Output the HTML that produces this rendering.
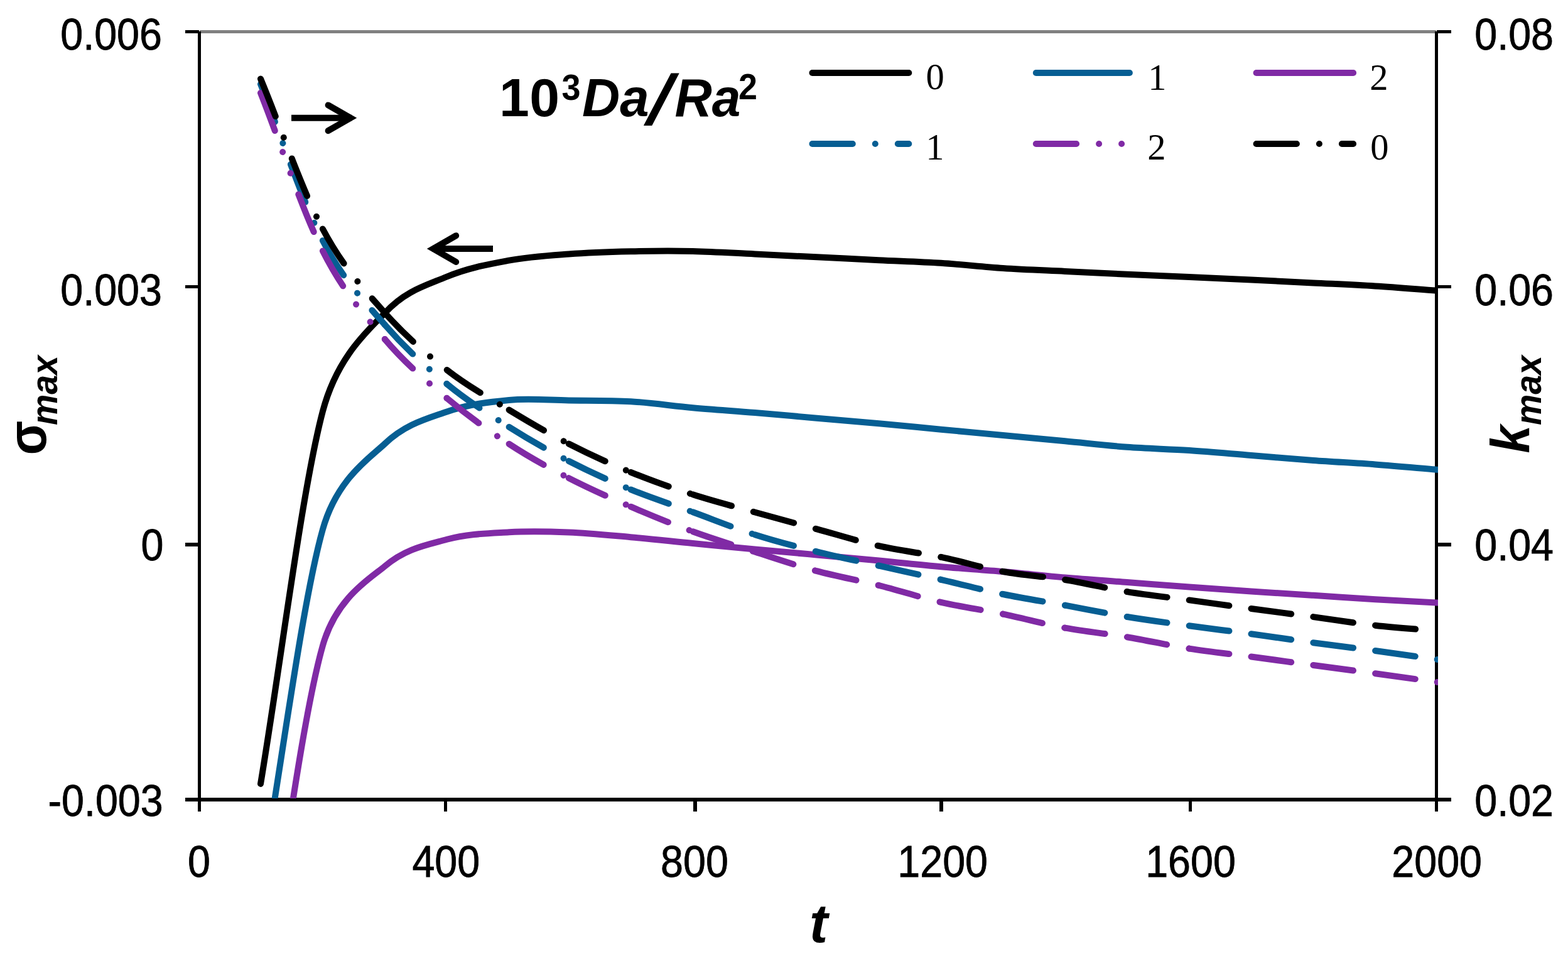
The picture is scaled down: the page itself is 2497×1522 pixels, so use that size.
<!DOCTYPE html>
<html lang="en"><head><meta charset="utf-8"><title>Growth rate and wavenumber chart</title>
<style>html,body{margin:0;padding:0;background:#fff;overflow:hidden}svg{display:block}text{font-family:"Liberation Sans",sans-serif;fill:#000}.tk{font-size:64.6px;stroke:#000;stroke-width:0.8px}.lg text{font-family:"Liberation Serif",serif;font-size:58.6px}.b{font-weight:bold}.bi{font-weight:bold;font-style:italic}.i{font-style:italic}</style></head><body>
<svg xmlns="http://www.w3.org/2000/svg" width="2497" height="1522" viewBox="0 0 2497 1522">
<rect width="2497" height="1522" fill="#fff"/>
<g shape-rendering="crispEdges">
<rect x="318" y="48" width="1969" height="5" fill="#808080"/>
<rect x="295" y="1270" width="2016" height="6" fill="#000"/>
<rect x="315" y="50" width="5" height="1242" fill="#000"/>
<rect x="2285" y="50" width="5" height="1242" fill="#000"/>
<rect x="295" y="48" width="22" height="5" fill="#000"/>
<rect x="2288" y="48" width="23" height="5" fill="#000"/>
<rect x="295" y="454" width="22" height="5" fill="#000"/>
<rect x="2288" y="454" width="23" height="5" fill="#000"/>
<rect x="295" y="864" width="22" height="6" fill="#000"/>
<rect x="2288" y="864" width="23" height="6" fill="#000"/>
<rect x="707" y="1274" width="5" height="18" fill="#000"/>
<rect x="1104" y="1274" width="6" height="18" fill="#000"/>
<rect x="1496" y="1274" width="6" height="18" fill="#000"/>
<rect x="1893" y="1274" width="5" height="18" fill="#000"/>
</g>
<defs><clipPath id="plot"><rect x="315" y="48" width="1975" height="1223"/></clipPath></defs>
<g clip-path="url(#plot)">
<path d="M415 1247.9C447.97 1050.27 480.93 779.93 513.9 655C537.54 565.42 589.16 523.93 612.8 498.3C645.77 462.55 678.73 454.45 711.7 440.5C744.67 426.55 778.27 420.62 810.6 414.6C842.93 408.58 873.38 406.8 905.7 404.4C938.02 402 971.57 400.95 1004.5 400.2C1037.43 399.45 1070.37 399.18 1103.3 399.9C1136.23 400.62 1169.17 402.93 1202.1 404.5C1235.03 406.07 1267.97 407.68 1300.9 409.3C1333.83 410.92 1366.77 412.62 1399.7 414.2C1432.63 415.78 1465.57 416.67 1498.5 418.8C1531.43 420.93 1564.37 424.8 1597.3 427C1630.23 429.2 1663.17 430.38 1696.1 432C1729.03 433.62 1761.97 435.2 1794.9 436.7C1827.83 438.2 1860.77 439.53 1893.7 441C1926.63 442.47 1959.57 443.93 1992.5 445.5C2025.43 447.07 2058.37 448.73 2091.3 450.4C2124.23 452.07 2157.17 453.45 2190.1 455.5C2223.03 457.55 2255.97 460.3 2288.9 462.7" stroke="#000000" stroke-width="10" fill="none" stroke-linecap="round" stroke-linejoin="round"/>
<path d="M415 1410C447.97 1221 480.93 960.25 513.9 843C536.71 761.86 589.99 728.12 612.8 706.5C645.77 675.25 678.73 667.08 711.7 655.5C744.67 643.92 778.27 640 810.6 637C842.93 634 873.38 637.13 905.7 637.5C938.02 637.87 971.57 637.25 1004.5 639.2C1037.43 641.15 1070.37 646.23 1103.3 649.2C1136.23 652.17 1169.17 654.25 1202.1 657C1235.03 659.75 1267.97 662.82 1300.9 665.7C1333.83 668.58 1366.77 671.3 1399.7 674.3C1432.63 677.3 1465.57 680.58 1498.5 683.7C1531.43 686.82 1564.37 689.9 1597.3 693C1630.23 696.1 1663.17 699.17 1696.1 702.3C1729.03 705.43 1761.97 709.35 1794.9 711.8C1827.83 714.25 1860.77 714.8 1893.7 717C1926.63 719.2 1959.57 722.33 1992.5 725C2025.43 727.67 2058.37 730.6 2091.3 733C2124.23 735.4 2157.17 736.95 2190.1 739.4C2223.03 741.85 2255.97 744.93 2288.9 747.7" stroke="#065E93" stroke-width="10" fill="none" stroke-linecap="round" stroke-linejoin="round"/>
<path d="M415 1600C447.97 1409.33 480.93 1144.42 513.9 1028C535.78 950.75 590.92 920.21 612.8 901.5C645.77 873.3 678.73 867.85 711.7 858.8C744.67 849.75 778.27 849.1 810.6 847.2C842.93 845.3 873.38 846.07 905.7 847.4C938.02 848.73 971.57 852.27 1004.5 855.2C1037.43 858.13 1070.37 861.78 1103.3 865C1136.23 868.22 1169.17 871.43 1202.1 874.5C1235.03 877.57 1267.97 880.42 1300.9 883.4C1333.83 886.38 1366.77 889.27 1399.7 892.4C1432.63 895.53 1465.57 899.27 1498.5 902.2C1531.43 905.13 1564.37 907.12 1597.3 910C1630.23 912.88 1663.17 916.67 1696.1 919.5C1729.03 922.33 1761.97 924.5 1794.9 927C1827.83 929.5 1860.77 932.08 1893.7 934.5C1926.63 936.92 1959.57 939.28 1992.5 941.5C2025.43 943.72 2058.37 945.68 2091.3 947.8C2124.23 949.92 2157.17 952.25 2190.1 954.2C2223.03 956.15 2255.97 957.73 2288.9 959.5" stroke="#802AA5" stroke-width="10" fill="none" stroke-linecap="round" stroke-linejoin="round"/>
<g stroke="#065E93" stroke-width="10" fill="none" stroke-linecap="round" stroke-dasharray="64.3 36 0.01 36">
<path d="M415 134C447.97 217 480.93 319.17 513.9 383"/>
<path d="M513.9 383C546.87 446.83 579.83 478.95 612.8 517"/>
<path d="M612.8 517C645.77 555.05 678.73 584.17 711.7 611.3"/>
<path d="M711.7 611.3C744.67 638.43 778.27 659.35 810.6 679.8"/>
<path d="M810.6 679.8C842.93 700.25 873.38 717.4 905.7 734"/>
<path d="M905.7 734C938.02 750.6 971.57 765.85 1004.5 779.4"/>
<path d="M1004.5 779.4C1037.43 792.95 1070.37 803.33 1103.3 815.3"/>
<path d="M1103.3 815.3C1136.23 827.27 1169.17 840.7 1202.1 851.2"/>
<path d="M1202.1 851.2C1235.03 861.7 1267.97 870.05 1300.9 878.3"/>
<path d="M1300.9 878.3C1333.83 886.55 1366.77 893.28 1399.7 900.7"/>
<path d="M1399.7 900.7C1432.63 908.12 1465.57 915.25 1498.5 922.8"/>
<path d="M1498.5 922.8C1531.43 930.35 1564.37 939.18 1597.3 946"/>
<path d="M1597.3 946C1630.23 952.82 1663.17 957.7 1696.1 963.7"/>
<path d="M1696.1 963.7C1729.03 969.7 1761.97 976.58 1794.9 982"/>
<path d="M1794.9 982C1827.83 987.42 1860.77 991.67 1893.7 996.2"/>
<path d="M1893.7 996.2C1926.63 1000.73 1959.57 1004.7 1992.5 1009.2"/>
<path d="M1992.5 1009.2C2025.43 1013.7 2058.37 1018.73 2091.3 1023.2"/>
<path d="M2091.3 1023.2C2124.23 1027.67 2157.17 1031.55 2190.1 1036"/>
<path d="M2190.1 1036C2223.03 1040.45 2255.97 1045.27 2288.9 1049.9"/>
</g>
<circle cx="2288.7" cy="1049.9" r="5" fill="#065E93"/>
<g stroke="#802AA5" stroke-width="10" fill="none" stroke-linecap="round" stroke-dasharray="64.3 36 0.01 36 0.01 36">
<path d="M415 148C447.97 231.83 480.93 334.17 513.9 399.5"/>
<path d="M513.9 399.5C546.87 464.83 579.83 500.92 612.8 540"/>
<path d="M612.8 540C645.77 579.08 678.73 606.2 711.7 634"/>
<path d="M711.7 634C744.67 661.8 778.27 685.62 810.6 706.8"/>
<path d="M810.6 706.8C842.93 727.98 873.38 744.45 905.7 761.1"/>
<path d="M905.7 761.1C938.02 777.75 971.57 792.52 1004.5 806.7"/>
<path d="M1004.5 806.7C1037.43 820.88 1070.37 834.22 1103.3 846.2"/>
<path d="M1103.3 846.2C1136.23 858.18 1169.17 868.1 1202.1 878.6"/>
<path d="M1202.1 878.6C1235.03 889.1 1267.97 900.3 1300.9 909.2"/>
<path d="M1300.9 909.2C1333.83 918.1 1366.77 923.73 1399.7 932"/>
<path d="M1399.7 932C1432.63 940.27 1465.57 951.2 1498.5 958.8"/>
<path d="M1498.5 958.8C1531.43 966.4 1564.37 970.78 1597.3 977.6"/>
<path d="M1597.3 977.6C1630.23 984.42 1663.17 993.6 1696.1 999.7"/>
<path d="M1696.1 999.7C1729.03 1005.8 1761.97 1008.72 1794.9 1014.2"/>
<path d="M1794.9 1014.2C1827.83 1019.68 1860.77 1027.38 1893.7 1032.6"/>
<path d="M1893.7 1032.6C1926.63 1037.82 1959.57 1041.1 1992.5 1045.5"/>
<path d="M1992.5 1045.5C2025.43 1049.9 2058.37 1054.53 2091.3 1059"/>
<path d="M2091.3 1059C2124.23 1063.47 2157.17 1067.8 2190.1 1072.3"/>
<path d="M2190.1 1072.3C2223.03 1076.8 2255.97 1081.43 2288.9 1086"/>
</g>
<circle cx="2288.7" cy="1086" r="5" fill="#802AA5"/>
<g stroke="#000000" stroke-width="10" fill="none" stroke-linecap="round" stroke-dasharray="64.3 36 0.01 36">
<path d="M415 125.5C447.97 205.17 480.93 302.42 513.9 364.5"/>
<path d="M513.9 364.5C546.87 426.58 579.83 460.58 612.8 498"/>
<path d="M612.8 498C645.77 535.42 678.73 563.23 711.7 589"/>
<path d="M711.7 589C744.67 614.77 778.27 633.02 810.6 652.6"/>
<path d="M810.6 652.6C842.93 672.18 873.38 689.97 905.7 706.5"/>
<path d="M905.7 706.5C938.02 723.03 971.57 738.33 1004.5 751.8"/>
<path d="M1004.5 751.8C1037.43 765.27 1070.37 776.68 1103.3 787.3"/>
<path d="M1103.3 787.3C1136.23 797.92 1169.17 806.32 1202.1 815.5"/>
<path d="M1202.1 815.5C1235.03 824.68 1267.97 833.45 1300.9 842.4"/>
<path d="M1300.9 842.4C1333.83 851.35 1366.77 861.78 1399.7 869.2"/>
<path d="M1399.7 869.2C1432.63 876.62 1465.57 880.1 1498.5 886.9"/>
<path d="M1498.5 886.9C1531.43 893.7 1564.37 903.98 1597.3 910"/>
<path d="M1597.3 910C1630.23 916.02 1663.17 917.65 1696.1 923"/>
<path d="M1696.1 923C1729.03 928.35 1761.97 936.7 1794.9 942.1"/>
<path d="M1794.9 942.1C1827.83 947.5 1860.77 950.92 1893.7 955.4"/>
<path d="M1893.7 955.4C1926.63 959.88 1959.57 964.55 1992.5 969"/>
<path d="M1992.5 969C2025.43 973.45 2058.37 977.65 2091.3 982.1"/>
<path d="M2091.3 982.1C2124.23 986.55 2157.17 991.97 2190.1 995.7"/>
<path d="M2190.1 995.7C2223.03 999.43 2255.97 1001.57 2288.9 1004.5"/>
</g>
</g>
<g stroke="#000" stroke-width="10" fill="none">
<path d="M464 187.8H560" stroke-linecap="butt"/>
<path d="M522.6 167.4L558.2 187.8L522.6 208.2" stroke-linecap="round" stroke-linejoin="miter" stroke-miterlimit="10"/>
<path d="M785 396.1H688" stroke-linecap="butt"/>
<path d="M726.2 375.2L689.9 396.1L726.2 417" stroke-linecap="round" stroke-linejoin="miter" stroke-miterlimit="10"/>
</g>
<g stroke-width="10" fill="none" stroke-linecap="round">
<path d="M1293.5 116H1447.3" stroke="#000000"/>
<path d="M1649.8 116H1798.9" stroke="#065E93"/>
<path d="M2000.6 116H2155.1" stroke="#802AA5"/>
<path d="M1293.5 229H1447.3" stroke="#065E93" stroke-dasharray="64.3 36 0.01 36"/>
<path d="M1649.8 229H1798.9" stroke="#802AA5" stroke-dasharray="64.3 36 0.01 36 0.01 36"/>
<path d="M2000.6 229H2155.1" stroke="#000000" stroke-dasharray="64.3 36 0.01 36"/>
</g>
<g class="lg">
<text x="1474.4" y="142">0</text>
<text x="1828.2" y="142.6">1</text>
<text x="2181.3" y="142.6">2</text>
<text x="1474.2" y="254.2">1</text>
<text x="1827.3" y="254.2">2</text>
<text x="2182.3" y="253.6">0</text>
</g>
<g id="title">
<text class="b" x="795" y="185" font-size="86" textLength="96" lengthAdjust="spacing">10</text>
<text class="b" x="894.5" y="158.8" font-size="58" transform="translate(894.5 0) scale(0.93 1) translate(-894.5 0)">3</text>
<text class="bi" x="927" y="185" font-size="86" transform="translate(927 0) scale(0.97 1) translate(-927 0)">Da</text>
<text class="i" font-size="109.5" transform="translate(1034.5 197) scale(1.12 1)" stroke="#000" stroke-width="3">/</text>
<text class="bi" x="1074.5" y="185" font-size="86" transform="translate(1074.5 0) scale(0.955 1) translate(-1074.5 0)">Ra</text>
<text class="b" x="1176" y="158" font-size="58" transform="translate(1176 0) scale(0.93 1) translate(-1176 0)">2</text>
</g>
<text class="tk" text-anchor="end" transform="translate(257.9 78.8) scale(1 1.08)">0.006</text>
<text class="tk" text-anchor="end" transform="translate(257.9 485.8) scale(1 1.08)">0.003</text>
<text class="tk" text-anchor="end" transform="translate(260.5 891.8) scale(1 1.08)">0</text>
<text class="tk" text-anchor="end" transform="translate(259.7 1298.8) scale(1 1.08)">-0.003</text>
<text class="tk" text-anchor="start" transform="translate(2348.3 78.8) scale(1 1.08)">0.08</text>
<text class="tk" text-anchor="start" transform="translate(2348.3 485.8) scale(1 1.08)">0.06</text>
<text class="tk" text-anchor="start" transform="translate(2348.3 891.8) scale(1 1.08)">0.04</text>
<text class="tk" text-anchor="start" transform="translate(2348.3 1298.8) scale(1 1.08)">0.02</text>
<text class="tk" text-anchor="middle" transform="translate(317 1395.8) scale(1 1.08)">0</text>
<text class="tk" text-anchor="middle" transform="translate(710.3 1395.8) scale(1 1.08)">400</text>
<text class="tk" text-anchor="middle" transform="translate(1106 1395.8) scale(1 1.08)">800</text>
<text class="tk" text-anchor="middle" transform="translate(1501.2 1395.8) scale(1 1.08)">1200</text>
<text class="tk" text-anchor="middle" transform="translate(1896 1395.8) scale(1 1.08)">1600</text>
<text class="tk" text-anchor="middle" transform="translate(2288.2 1395.8) scale(1 1.08)">2000</text>
<text class="bi" x="1289" y="1500" font-size="88">t</text>
<g transform="translate(73 724.5) rotate(-90)">
<text class="b" font-size="88" transform="scale(0.91 1)">σ</text>
<text class="bi" font-size="60" transform="translate(47.5 18) scale(0.925 1)">max</text>
</g>
<g transform="translate(2435 721.5) rotate(-90)">
<text class="bi" font-size="88" transform="scale(0.91 1)">k</text>
<text class="bi" font-size="60" transform="translate(44.5 18.7) scale(0.925 1)">max</text>
</g>
</svg>
</body></html>
